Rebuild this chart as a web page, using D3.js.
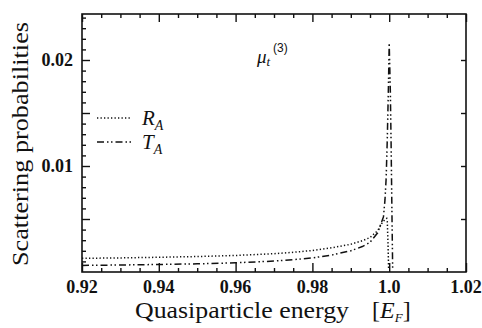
<!DOCTYPE html>
<html>
<head>
<meta charset="utf-8">
<script src="https://cdn.jsdelivr.net/npm/d3@7"></script>
<style>
  html, body { margin: 0; padding: 0; background: #fff; }
  svg { display: block; }
  text { fill: #111; }
</style>
</head>
<body>
<svg id="chart" width="482" height="328"></svg>
<script>
// Andreev reflection (R_A) and transmission (T_A) probabilities near the Fermi energy
const energyRA = [0.92, 0.93, 0.94, 0.95, 0.96, 0.97, 0.975, 0.98, 0.985, 0.99, 0.993, 0.995, 0.997, 0.998, 0.999, 0.99935, 0.9995, 0.9997, 0.99985];
const valuesRA = [0.00129, 0.00133, 0.00139, 0.00146, 0.00156, 0.00173, 0.00186, 0.00203, 0.00228, 0.00262, 0.00295, 0.00325, 0.0039, 0.00455, 0.0050, 0.00506, 0.0048, 0.0025, 0.0003];

const energyTA = [0.92, 0.93, 0.94, 0.95, 0.96, 0.97, 0.975, 0.98, 0.985, 0.99, 0.993, 0.995, 0.997, 0.9976, 0.9985, 0.9989, 0.9992, 0.9995, 0.9998, 1.0000, 1.0003, 1.0005, 1.0007, 1.0009];
const valuesTA = [0.00062, 0.00066, 0.00071, 0.00077, 0.00087, 0.00103, 0.00116, 0.00133, 0.0016, 0.0020, 0.0024, 0.0028, 0.0037, 0.0043, 0.0052, 0.0068, 0.0088, 0.0125, 0.0175, 0.0216, 0.017, 0.012, 0.006, 0.0004];

const xTickLabels = ["0.92", "0.94", "0.96", "0.98", "1.0", "1.02"];
const xTickValues = [0.92, 0.94, 0.96, 0.98, 1.0, 1.02];
const yTickLabels = ["0.01", "0.02"];
const yTickValues = [0.01, 0.02];

const svg = d3.select("#chart");
const plotLeft = 82, plotRight = 466, plotTop = 14, plotBottom = 272;

const x = d3.scaleLinear().domain([0.92, 1.02]).range([plotLeft, plotRight]);
const y = d3.scaleLinear().domain([0, 0.02434]).range([plotBottom, plotTop]);

const serif = "'Liberation Serif', 'Times New Roman', serif";

// clip region for curves
svg.append("defs").append("clipPath").attr("id", "plotClip")
  .append("rect").attr("x", plotLeft).attr("y", plotTop)
  .attr("width", plotRight - plotLeft).attr("height", plotBottom - plotTop);

// inward ticks on all four sides
const xMinor = d3.range(0.92, 1.0201, 0.005).map(v => +v.toFixed(3));
const yMinor = d3.range(0.001, 0.0241, 0.001).map(v => +v.toFixed(3));
const isMajorX = v => Math.abs(Math.round(v / 0.02) * 0.02 - v) < 1e-6;
const isMajorY = v => Math.abs(Math.round(v / 0.005) * 0.005 - v) < 1e-6;

const bottomAxis = d3.axisBottom(x).tickValues(xMinor).tickSizeInner(0).tickSizeOuter(0).tickFormat("");
const gb = svg.append("g").attr("transform", `translate(0,${plotBottom})`).call(bottomAxis);
gb.selectAll(".tick line").attr("y2", d => isMajorX(d) ? -9 : -4);

const topAxis = d3.axisTop(x).tickValues(xMinor).tickSizeInner(0).tickSizeOuter(0).tickFormat("");
const gt = svg.append("g").attr("transform", `translate(0,${plotTop})`).call(topAxis);
gt.selectAll(".tick line").attr("y2", d => isMajorX(d) ? 8 : 4);

const leftAxis = d3.axisLeft(y).tickValues(yMinor).tickSizeInner(0).tickSizeOuter(0).tickFormat("");
const gl = svg.append("g").attr("transform", `translate(${plotLeft},0)`).call(leftAxis);
gl.selectAll(".tick line").attr("x2", d => isMajorY(d) ? 8 : 4);

const rightAxis = d3.axisRight(y).tickValues(yMinor.filter(isMajorY)).tickSizeInner(0).tickSizeOuter(0).tickFormat("");
const gr = svg.append("g").attr("transform", `translate(${plotRight},0)`).call(rightAxis);
gr.selectAll(".tick line").attr("x2", -5);

svg.selectAll(".domain").remove();
svg.selectAll(".tick line").attr("stroke", "#111").attr("stroke-width", 1.4);

// frame
svg.append("rect").attr("x", plotLeft).attr("y", plotTop)
  .attr("width", plotRight - plotLeft).attr("height", plotBottom - plotTop)
  .attr("fill", "none").attr("stroke", "#111").attr("stroke-width", 1.6);

// tick labels
svg.append("g").selectAll("text").data(xTickValues).join("text")
  .attr("x", d => x(d)).attr("y", 293)
  .attr("text-anchor", "middle")
  .attr("font-family", serif).attr("font-size", 18).attr("font-weight", "bold")
  .text((d, i) => xTickLabels[i]);

svg.append("g").selectAll("text").data(yTickValues).join("text")
  .attr("x", 73).attr("y", d => y(d) + 6)
  .attr("text-anchor", "end")
  .attr("font-family", serif).attr("font-size", 18).attr("font-weight", "bold")
  .text((d, i) => yTickLabels[i]);

// axis titles
svg.append("text").attr("x", 135).attr("y", 318)
  .attr("font-family", serif).attr("font-size", 24)
  .attr("textLength", 214).attr("lengthAdjust", "spacingAndGlyphs")
  .text("Quasiparticle energy");

const ef = svg.append("text").attr("x", 372).attr("y", 318)
  .attr("font-family", serif).attr("font-size", 24);
ef.append("tspan").text("[");
ef.append("tspan").attr("font-style", "italic").text("E");
ef.append("tspan").attr("font-style", "italic").attr("font-size", 13).attr("dy", 4).text("F");
ef.append("tspan").attr("dy", -4).text("]");

svg.append("text")
  .attr("transform", `translate(28,${(plotTop + plotBottom) / 2 + 1}) rotate(-90)`)
  .attr("text-anchor", "middle")
  .attr("font-family", serif).attr("font-size", 24)
  .attr("textLength", 244).attr("lengthAdjust", "spacingAndGlyphs")
  .text("Scattering probabilities");

// curves
const line = d3.line().x(d => x(d[0])).y(d => y(d[1]));
const ra = energyRA.map((e, i) => [e, valuesRA[i]]);
const ta = energyTA.map((e, i) => [e, valuesTA[i]]);
const dotted = "1.3,2.2";
const dashDotDot = "7,3,1.5,2.5,1.5,3";

const curves = svg.append("g").attr("clip-path", "url(#plotClip)");
curves.append("path").datum(ra).attr("d", line)
  .attr("fill", "none").attr("stroke", "#111").attr("stroke-width", 1.5)
  .attr("stroke-dasharray", dotted);
curves.append("path").datum(ta).attr("d", line)
  .attr("fill", "none").attr("stroke", "#111").attr("stroke-width", 1.5)
  .attr("stroke-dasharray", dashDotDot);

// legend
const legend = svg.append("g");
legend.append("line").attr("x1", 97).attr("x2", 131).attr("y1", 118).attr("y2", 118)
  .attr("stroke", "#111").attr("stroke-width", 1.5).attr("stroke-dasharray", dotted);
legend.append("line").attr("x1", 97).attr("x2", 131).attr("y1", 142).attr("y2", 142)
  .attr("stroke", "#111").attr("stroke-width", 1.5).attr("stroke-dasharray", dashDotDot);

const lr = legend.append("text").attr("x", 142).attr("y", 125)
  .attr("font-family", serif).attr("font-size", 21).attr("font-style", "italic");
lr.append("tspan").text("R");
lr.append("tspan").attr("font-size", 14).attr("dy", 5).text("A");
const lt = legend.append("text").attr("x", 142).attr("y", 149)
  .attr("font-family", serif).attr("font-size", 21).attr("font-style", "italic");
lt.append("tspan").text("T");
lt.append("tspan").attr("font-size", 14).attr("dy", 5).text("A");

// annotation
const mu = svg.append("text").attr("x", 257).attr("y", 63)
  .attr("font-family", serif).attr("font-size", 19).attr("font-style", "italic");
mu.append("tspan").text("μ");
mu.append("tspan").attr("font-size", 13).attr("dy", 3).text("t");
svg.append("text").attr("x", 273).attr("y", 52)
  .attr("font-family", "'Liberation Sans', sans-serif").attr("font-size", 12)
  .text("(3)");
</script>
</body>
</html>
